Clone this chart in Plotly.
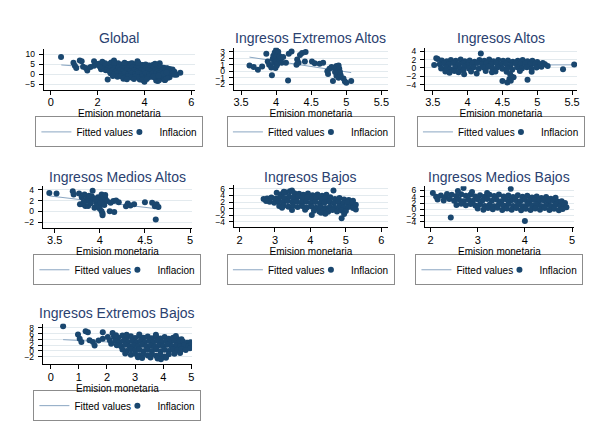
import plotly.graph_objects as go

W, H = 591, 438

# ---------------- data (Emision monetaria, Inflacion) ----------------
ext_altos_pts = [
    (3.62, 0.9), (3.68, 0.65), (3.74, 0.25), (3.80, 0.75), (3.86, 2.7), (3.88, 1.5),
    (3.90, 1.0), (3.93, 0.6), (3.94, -0.6), (3.95, 1.9), (3.96, 2.4), (3.97, 1.3),
    (3.98, 2.9), (3.99, 1.8), (4.00, 3.3), (4.00, 2.2), (4.00, 1.5), (4.01, 0.9),
    (4.02, 2.6), (4.02, 1.2), (4.03, 3.0), (4.04, 1.9), (4.05, 2.3), (4.06, 1.6),
    (4.07, 2.0), (4.08, 1.3), (4.10, 2.2), (3.99, 0.5), (4.14, 1.3), (4.17, -1.4),
    (4.18, 2.7), (4.22, 3.05), (4.29, 1.0), (4.30, 1.8), (4.32, 1.3), (4.34, 2.5),
    (4.37, 2.8), (4.41, 1.5), (4.42, 2.95), (4.51, 1.5), (4.55, 1.25), (4.62, 1.15),
    (4.67, 1.3), (4.73, 0.0), (4.76, 0.4), (4.79, 0.65), (4.83, 0.5), (4.86, 0.8),
    (4.89, 0.9), (4.90, 0.4), (4.74, -0.4), (4.81, -1.5), (4.86, -0.7), (4.89, -1.0),
    (4.92, -0.6), (4.96, -1.1), (4.98, -1.55), (5.00, -1.75), (5.07, -1.5),
    (4.91, -0.1), (4.84, -0.1),
]

altos_pts = [
    (3.57, 2.1), (3.63, 1.8), (3.70, 1.6), (3.76, 1.9), (3.83, 1.7), (3.90, 2.0),
    (3.96, 1.6), (4.03, 1.8), (4.10, 1.5), (4.17, 1.9), (4.24, 1.7), (4.31, 2.0),
    (4.37, 1.6), (4.44, 1.9), (4.51, 1.7), (4.58, 1.8), (4.65, 1.5), (4.72, 1.7),
    (4.79, 1.9), (4.86, 1.6), (4.93, 1.7), (5.00, 1.4), (5.08, 1.2),
    (3.60, 0.9), (3.66, 1.1), (3.73, 0.8), (3.80, 1.2), (3.87, 0.9), (3.94, 1.1),
    (4.00, 0.7), (4.07, 1.0), (4.14, 1.2), (4.21, 0.8), (4.27, 1.1), (4.34, 0.9),
    (4.41, 1.2), (4.48, 0.8), (4.55, 1.0), (4.62, 0.7), (4.69, 1.1), (4.76, 0.9),
    (4.83, 1.0), (4.90, 0.8), (4.97, 1.0), (5.04, 0.8), (5.11, 0.9), (5.15, 0.5),
    (3.62, -0.1), (3.69, 0.2), (3.75, -0.3), (3.82, 0.1), (3.89, -0.2), (3.95, 0.3),
    (4.02, -0.1), (4.09, 0.2), (4.16, -0.2), (4.23, 0.1), (4.30, 0.3), (4.36, -0.1),
    (4.43, 0.2), (4.50, -0.2), (4.57, 0.0), (4.64, -0.4), (4.71, 0.2), (4.78, -0.1),
    (4.85, 0.2), (4.92, -0.2), (4.99, 0.1), (5.06, 0.3),
    (3.68, -0.8), (3.74, -1.1), (3.81, -0.7), (3.87, -1.0), (3.94, -0.6), (4.05, -0.8),
    (4.26, -0.7), (4.40, -0.8), (4.56, -0.9), (4.61, -1.4), (4.63, -2.0), (4.60, -2.6),
    (4.66, -2.2), (4.75, -0.7), (4.92, -0.9),
    (3.52, 0.7), (3.55, 2.3), (4.19, 3.4), (3.95, -1.5), (4.13, -1.3), (4.35, -1.0),
    (4.50, -3.1), (4.57, -3.4), (4.62, -3.0), (4.86, -2.8), (5.37, -0.3), (5.53, 0.8),
]

medios_altos_pts = [
    (3.44, 3.4), (3.52, 3.3), (3.70, 3.7), (3.71, 3.1), (3.77, 3.3), (3.78, 1.3),
    (3.81, 1.3), (3.80, 2.6), (3.83, 3.1), (3.86, 2.4), (3.89, 1.9), (3.91, 2.8),
    (3.92, 3.8), (3.93, 2.4), (3.96, 1.7), (3.98, 2.6), (4.00, 2.0), (4.02, 3.1),
    (4.03, 1.4), (4.04, 2.0), (4.06, 2.4), (4.00, 0.5), (4.02, 0.05), (4.03, -0.4),
    (4.03, -0.7), (4.08, 1.9), (4.11, 0.05), (4.16, -0.1), (4.15, 1.9), (4.18, 2.0),
    (4.31, 1.45), (4.29, 0.95), (4.34, 1.1), (4.38, 1.3), (4.50, 1.7), (4.58, 1.6),
    (4.61, 0.95), (4.63, 1.3), (4.65, 0.8), (4.62, -1.5), (3.84, 1.0), (3.87, 1.0),
    (3.94, 0.65), (3.97, 1.15), (3.99, 1.0), (4.04, 2.8), (4.06, 3.0), (3.85, 2.0),
    (3.88, 2.9), (3.95, 2.2), (3.90, 1.5), (4.01, 1.6), (4.05, 1.2), (3.82, 1.7),
    (4.12, 1.6), (4.21, 1.7),
]

bajos_pts = [
    (3.05, 4.8), (3.18, 4.4), (3.30, 5.0), (3.42, 5.3), (3.55, 4.7), (3.68, 4.5),
    (3.80, 4.2), (3.93, 4.6), (4.06, 4.1), (4.20, 4.3), (4.33, 3.9), (4.45, 4.2),
    (2.68, 2.9), (2.78, 3.1), (2.90, 3.4), (3.02, 3.0), (3.14, 3.5), (3.27, 3.2),
    (3.40, 3.7), (3.52, 3.3), (3.65, 3.6), (3.78, 3.1), (3.91, 3.4), (4.04, 3.0),
    (4.17, 3.3), (4.30, 2.9), (4.43, 3.2), (4.56, 3.5), (4.69, 2.9), (4.82, 3.2),
    (4.95, 2.8), (5.08, 2.6), (5.20, 2.4),
    (2.85, 2.1), (2.98, 1.8), (3.10, 2.2), (3.23, 1.9), (3.36, 2.3), (3.49, 2.0),
    (3.62, 2.2), (3.75, 1.8), (3.88, 2.1), (4.01, 1.7), (4.14, 2.0), (4.27, 1.6),
    (4.40, 1.9), (4.53, 2.2), (4.66, 1.7), (4.79, 2.0), (4.92, 1.6), (5.05, 1.9),
    (5.18, 1.5), (5.28, 1.2),
    (3.12, 0.8), (3.25, 1.0), (3.38, 0.6), (3.51, 0.9), (3.64, 0.5), (3.77, 0.8),
    (3.90, 0.4), (4.03, 0.7), (4.16, 0.3), (4.29, 0.6), (4.42, 0.2), (4.55, 0.6),
    (4.68, 0.3), (4.81, 0.7), (4.94, 0.4), (5.07, 0.5), (5.20, 0.2), (5.28, -0.2),
    (3.48, -0.4), (3.85, -0.3), (4.10, -0.6), (4.25, -0.8), (4.38, -0.5), (4.50, -0.9),
    (4.62, -0.4), (4.75, -0.8), (4.88, -0.5), (5.00, -0.7),
    (4.65, 5.5), (4.04, -1.9), (4.42, -1.5), (4.88, -2.9), (4.95, -1.6), (4.30, -1.2),
    (3.25, 5.1), (3.48, 5.5), (2.75, 2.3), (3.20, 0.3),
]

medios_bajos_pts = [
    (2.05, 5.2), (2.12, 4.0), (2.22, 4.4), (2.32, 3.9), (2.45, 4.6), (2.55, 4.2),
    (2.65, 4.8), (2.75, 4.3), (2.85, 4.7), (2.95, 4.1), (3.05, 4.5), (3.15, 4.0),
    (3.25, 4.6), (3.35, 4.2), (3.45, 4.7), (3.55, 4.1), (3.65, 4.4), (3.75, 3.9),
    (3.85, 4.5), (3.95, 4.0), (4.05, 4.3), (4.15, 3.8), (4.25, 4.1), (4.35, 3.6),
    (4.45, 3.9), (4.55, 3.4), (4.65, 3.7),
    (2.15, 3.1), (2.28, 2.8), (2.40, 3.3), (2.50, 2.7), (2.60, 3.2), (2.70, 2.6),
    (2.80, 3.1), (2.90, 2.7), (3.00, 3.2), (3.10, 2.8), (3.20, 3.3), (3.30, 2.7),
    (3.40, 3.1), (3.50, 2.6), (3.60, 3.2), (3.70, 2.8), (3.80, 3.0), (3.90, 2.6),
    (4.00, 3.1), (4.10, 2.7), (4.20, 3.0), (4.30, 2.6), (4.40, 2.9), (4.50, 2.5),
    (4.60, 2.8), (4.70, 2.4), (4.78, 2.6), (4.85, 2.0),
    (2.55, 1.4), (2.65, 1.8), (2.75, 1.3), (2.85, 1.7), (2.95, 1.2), (3.05, 1.6),
    (3.15, 1.1), (3.25, 1.5), (3.35, 1.0), (3.45, 1.6), (3.55, 1.2), (3.65, 1.7),
    (3.75, 1.1), (3.85, 1.5), (3.95, 1.0), (4.05, 1.6), (4.15, 1.2), (4.25, 1.5),
    (4.35, 1.0), (4.45, 1.4), (4.55, 1.1), (4.65, 1.5), (4.75, 1.0), (4.83, 1.3),
    (4.88, 0.7),
    (3.00, 0.3), (3.12, -0.1), (3.22, 0.4), (3.32, 0.0), (3.42, 0.5), (3.52, -0.2),
    (3.62, 0.3), (3.72, -0.1), (3.82, 0.4), (3.92, -0.3), (4.02, 0.2), (4.12, -0.2),
    (4.22, 0.3), (4.32, -0.1), (4.42, 0.4), (4.52, -0.2), (4.62, 0.2), (4.72, -0.3),
    (4.80, 0.1),
    (2.43, -2.6), (4.00, -3.7), (2.58, 5.8), (2.70, 6.8), (2.88, 5.5), (3.70, 6.5),
    (3.20, 5.2), (2.35, 4.9),
]

ext_bajos_pts = [
    (2.25, 5.0), (2.40, 4.6), (2.55, 5.3), (2.70, 4.7), (2.85, 5.1), (3.00, 4.5),
    (3.15, 5.2), (3.30, 4.6), (3.45, 5.0), (3.60, 4.4), (3.75, 4.9), (3.90, 4.3),
    (4.05, 4.8), (4.20, 4.2), (4.35, 4.6), (4.50, 4.1), (4.65, 4.0),
    (2.30, 3.4), (2.45, 3.0), (2.60, 3.6), (2.75, 3.1), (2.90, 3.5), (3.05, 2.9),
    (3.20, 3.4), (3.35, 3.0), (3.50, 3.6), (3.65, 3.1), (3.80, 3.5), (3.95, 2.9),
    (4.10, 3.4), (4.25, 3.0), (4.40, 3.5), (4.55, 2.9), (4.70, 3.3), (4.85, 2.8),
    (4.97, 3.0),
    (2.35, 2.0), (2.50, 1.6), (2.65, 2.1), (2.80, 1.5), (2.95, 2.0), (3.10, 1.6),
    (3.25, 2.1), (3.40, 1.5), (3.55, 1.9), (3.70, 1.4), (3.85, 2.0), (4.00, 1.6),
    (4.15, 2.1), (4.30, 1.5), (4.45, 1.9), (4.60, 1.6), (4.75, 2.0), (4.90, 1.6),
    (5.00, 2.2),
    (2.55, 0.5), (2.70, 0.0), (2.85, 0.6), (3.00, 0.1), (3.15, 0.5), (3.30, -0.1),
    (3.45, 0.4), (3.60, 0.0), (3.75, 0.6), (3.90, -0.1), (4.05, 0.4), (4.20, 0.0),
    (4.35, 0.5), (4.50, 0.1), (4.65, 0.6), (4.80, 0.3), (4.95, 0.9),
    (2.65, -0.9), (2.85, -1.3), (3.00, -1.0), (3.15, -1.5), (3.30, -1.1), (3.45, -1.6),
    (3.60, -1.2), (3.75, -1.7), (3.90, -1.3), (4.05, -1.9), (4.20, -1.2), (4.40, -1.0),
    (4.60, -0.7),
    (3.10, -2.2), (3.25, -2.5), (3.55, -2.3), (3.80, -2.6), (3.92, -2.9), (4.10, -2.4),
    (0.44, 8.5), (0.97, 5.7), (1.03, 4.2), (1.09, 3.1), (1.24, 6.8), (1.32, 6.5),
    (1.38, 3.7), (1.50, 3.1), (1.56, 1.9), (1.85, 6.5), (1.85, 4.2), (2.03, 4.8),
    (2.15, 2.5), (1.70, 3.6), (2.10, 3.7), (2.20, 6.2),
    (2.32, 5.4), (2.70, 5.6), (3.15, 5.7), (3.74, 5.6), (4.45, 5.2),
]

# Global = all country groups together
global_pts = (ext_altos_pts + altos_pts + medios_altos_pts + bajos_pts
              + medios_bajos_pts + ext_bajos_pts)

# fitted-value lines (endpoints)
fit_global = [(0.45, 4.6), (5.55, 0.3)]
fit_ext_altos = [(3.62, 2.18), (5.07, -0.2)]
fit_altos = [(3.52, 0.65), (5.53, 0.75)]
fit_medios_altos = [(3.44, 2.85), (4.65, 0.45)]
fit_bajos = [(2.68, 3.4), (5.28, 1.0)]
fit_medios_bajos = [(2.05, 3.8), (4.88, 1.3)]
fit_ext_bajos = [(0.44, 3.9), (4.99, 1.6)]

titles = ["Global", "Ingresos Extremos Altos", "Ingresos Altos",
          "Ingresos Medios Altos", "Ingresos Bajos", "Ingresos Medios Bajos",
          "Ingresos Extremos Bajos"]
xticks = [[0, 2, 4, 6], [3.5, 4, 4.5, 5, 5.5], [3.5, 4, 4.5, 5, 5.5],
          [3.5, 4, 4.5, 5], [2, 3, 4, 5, 6], [2, 3, 4, 5], [0, 1, 2, 3, 4, 5]]
yticks = [[-5, 0, 5, 10], [-2, -1, 0, 1, 2, 3], [-4, -2, 0, 2, 4],
          [-2, 0, 2, 4], [-4, -2, 0, 2, 4, 6], [-4, -2, 0, 2, 4, 6],
          [-2, 0, 2, 4, 6, 8]]
x_title = "Emision monetaria"
series_names = ["Fitted values", "Inflacion"]

# ---------------- layout (pixel placement of each panel) ----------------
# box = (left, top, right, bottom) px; xcal/ycal = (value, px, value, px)
panels = [
    dict(pts=global_pts, fit=fit_global, box=(44, 47, 196, 88),
         xcal=(0, 51, 6, 192.3), ycal=(10, 52.3, -5, 82.7), ty=36.5, ly=130.5),
    dict(pts=ext_altos_pts, fit=fit_ext_altos, box=(235, 46, 390, 88),
         xcal=(3.5, 242.3, 5.5, 383.3), ycal=(3, 50, -2, 82.7), ty=36.5, ly=130.5),
    dict(pts=altos_pts, fit=fit_altos, box=(427, 46, 580, 88),
         xcal=(3.5, 435, 5.5, 575), ycal=(4, 49.3, -4, 83.3), ty=36.5, ly=130.5),
    dict(pts=medios_altos_pts, fit=fit_medios_altos, box=(43, 185, 193, 226.7),
         xcal=(3.5, 55, 5, 191), ycal=(4, 188.5, -2, 221.3), ty=175.5, ly=269),
    dict(pts=bajos_pts, fit=fit_bajos, box=(235, 184, 390, 226.5),
         xcal=(2, 240.7, 6, 383.3), ycal=(6, 187.7, -4, 221), ty=175.5, ly=269),
    dict(pts=medios_bajos_pts, fit=fit_medios_bajos, box=(427, 185, 577, 226.5),
         xcal=(2, 432.7, 5, 575), ycal=(6, 189.3, -4, 221), ty=175.5, ly=269),
    dict(pts=ext_bajos_pts, fit=fit_ext_bajos, box=(43, 323, 193, 364),
         xcal=(0, 51, 5, 192.3), ycal=(8, 327.3, -2, 356.3), ty=312.5, ly=405.5),
]

NAVY = "#1a476f"
FITC = "#8aa6c2"
TITLEC = "#2a4170"
FONT = "Liberation Sans, Arial, sans-serif"


def cal_range(cal, a, b):
    v0, p0, v1, p1 = cal
    s = (v1 - v0) / (p1 - p0)
    return [v0 + (a - p0) * s, v0 + (b - p0) * s]


fig = go.Figure()
annotations = []
layout_upd = {}

for i, p in enumerate(panels):
    k = "" if i == 0 else str(i + 1)
    xa, ya = "x" + k, "y" + k
    lg = "legend" + k
    l, t, r, b = p["box"]
    fx = [q[0] for q in p["fit"]]
    fy = [q[1] for q in p["fit"]]
    px_ = [q[0] for q in p["pts"]]
    py_ = [q[1] for q in p["pts"]]
    fig.add_trace(go.Scatter(x=fx, y=fy, mode="lines", name=series_names[0],
                             line=dict(color=FITC, width=1), legendwidth=38,
                             xaxis=xa, yaxis=ya, legend=lg, showlegend=True))
    fig.add_trace(go.Scatter(x=px_, y=py_, mode="markers", name=series_names[1],
                             marker=dict(color=NAVY, size=6, line=dict(width=0)),
                             xaxis=xa, yaxis=ya, legend=lg, showlegend=True))
    layout_upd["xaxis" + k] = dict(
        domain=[l / W, r / W], range=cal_range(p["xcal"], l, r),
        anchor=ya, tickvals=xticks[i], showline=True, linecolor="#000",
        linewidth=1, ticks="outside", ticklen=4, tickcolor="#000",
        ticklabelstandoff=-2,
        showgrid=False, zeroline=False,
        tickfont=dict(size=11, color="#000", family=FONT),
        title=dict(text=x_title, font=dict(size=10, color="#000", family=FONT),
                   standoff=0))
    layout_upd["yaxis" + k] = dict(
        domain=[1 - b / H, 1 - t / H], range=cal_range(p["ycal"], b, t),
        anchor=xa, tickvals=yticks[i], showline=True, linecolor="#000",
        linewidth=1, ticks="outside", ticklen=4, tickcolor="#000",
        ticklabelstandoff=2,
        showgrid=True, gridcolor="#e3eaee", gridwidth=1, zeroline=False,
        tickfont=dict(size=8.5, color="#000", family=FONT))
    cx = (l + r) / 2 / W
    annotations.append(dict(text=titles[i], x=cx, y=1 - p["ty"] / H,
                            xref="paper", yref="paper", showarrow=False,
                            xanchor="center", yanchor="middle",
                            font=dict(size=14, color=TITLEC, family=FONT)))
    layout_upd[lg] = dict(orientation="h", x=cx, y=1 - p["ly"] / H,
                          xanchor="center", yanchor="middle",
                          bordercolor="#8c8c8c", borderwidth=1, bgcolor="#fff",
                          font=dict(size=10, color="#000", family=FONT),
                          itemwidth=30, tracegroupgap=0)

fig.update_layout(**layout_upd)
fig.update_layout(width=W, height=H, margin=dict(l=0, r=0, t=0, b=0),
                  paper_bgcolor="#fff", plot_bgcolor="#fff",
                  annotations=annotations, font=dict(family=FONT))
fig.write_html("out.html", config={"displayModeBar": False},
               post_script="document.body.style.margin='0px';"
                           "document.body.style.padding='0px';")
